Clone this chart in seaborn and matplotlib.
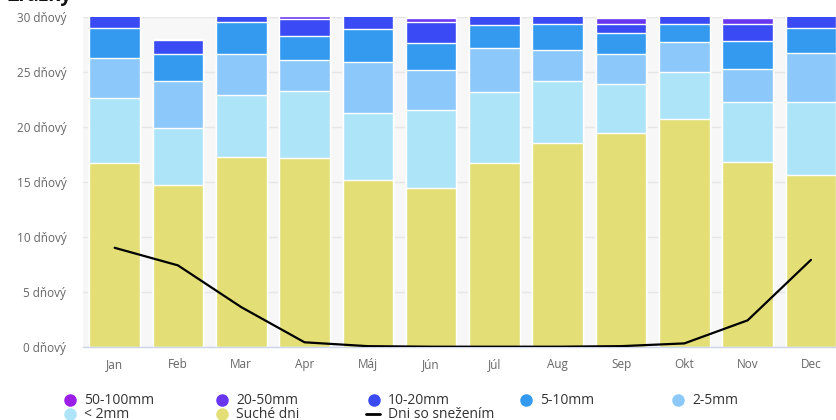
import numpy as np
import pandas as pd
import matplotlib.pyplot as plt
from matplotlib.lines import Line2D
import seaborn as sns

# Monthly rain-day breakdown (days)
months = ['Jan', 'Feb', 'Mar', 'Apr', 'Máj', 'Jún', 'Júl', 'Aug', 'Sep', 'Okt', 'Nov', 'Dec']
dry_days = [16.7, 14.7, 17.3, 17.2, 15.2, 14.4, 16.7, 18.5, 19.4, 20.7, 16.8, 15.6]
rain_lt2 = [5.9, 5.2, 5.6, 6.1, 6.1, 7.1, 6.5, 5.7, 4.5, 4.3, 5.5, 6.7]
rain_2_5 = [3.7, 4.3, 3.7, 2.8, 4.6, 3.7, 4.0, 2.8, 2.7, 2.7, 3.0, 4.4]
rain_5_10 = [2.7, 2.4, 2.9, 2.2, 3.0, 2.4, 2.1, 2.4, 1.9, 1.7, 2.5, 2.3]
rain_10_20 = [2.0, 1.3, 1.5, 1.5, 2.1, 1.9, 1.7, 1.6, 0.9, 1.6, 1.6, 2.0]
rain_20_50 = [0.0, 0.1, 0.0, 0.3, 0.0, 0.4, 0.0, 0.0, 0.5, 0.0, 0.5, 0.0]
rain_50_100 = [0.0, 0.0, 0.0, 0.0, 0.0, 0.1, 0.0, 0.0, 0.1, 0.0, 0.1, 0.0]
snow_days = [9.0, 7.4, 3.6, 0.4, 0.05, 0.0, 0.0, 0.0, 0.05, 0.3, 2.4, 7.9]

ytick_vals = [0, 5, 10, 15, 20, 25, 30]
ytick_labels = [f'{v} dňový' for v in ytick_vals]

# stacking order bottom -> top
layers = [
    ('Suché dni', dry_days, '#e3df76'),
    ('< 2mm', rain_lt2, '#ade4f7'),
    ('2-5mm', rain_2_5, '#8cc8fa'),
    ('5-10mm', rain_5_10, '#339af0'),
    ('10-20mm', rain_10_20, '#3a4af5'),
    ('20-50mm', rain_20_50, '#6a35f0'),
    ('50-100mm', rain_50_100, '#9b1ee8'),
]

sns.set_theme(style='white')
plt.rcParams['font.family'] = ['Open Sans', 'DejaVu Sans']

W, H = 837, 420
fig = plt.figure(figsize=(W / 100, H / 100), dpi=100)
ax_left, ax_right = 83, 842.6
ax_top, ax_bottom = 17, 346.7
ax = fig.add_axes([ax_left / W, 1 - ax_bottom / H,
                   (ax_right - ax_left) / W, (ax_bottom - ax_top) / H])
ax.set_facecolor('#f7f7f7')

df = pd.DataFrame({'month': months})
cum = np.zeros(len(months))
cums = []
for name, vals, color in layers:
    cum = cum + np.array(vals)
    cums.append((name, cum.copy(), color))

# draw tallest cumulative first so lower layers sit on top
for name, top, color in reversed(cums):
    df['top'] = top
    sns.barplot(data=df, x='month', y='top', color=color, saturation=1,
                width=0.8, edgecolor='white', linewidth=1, ax=ax, zorder=2)

line_df = pd.DataFrame({'pos': np.arange(len(months)), 'snow': snow_days})
sns.lineplot(data=line_df, x='pos', y='snow', color='black', linewidth=1.6,
             ax=ax, zorder=5)

ax.set_xlim(-0.5, 11.5)
ax.set_ylim(0, 30)
ax.set_yticks(ytick_vals, ytick_labels)
ax.set_xticks(np.arange(len(months)), months)
ax.set_xlabel('')
ax.set_ylabel('')
ax.grid(axis='y', color='#e6e6e6', linewidth=1)
ax.grid(axis='x', visible=False)
ax.set_axisbelow(True)
for s in ['top', 'right', 'left']:
    ax.spines[s].set_visible(False)
ax.spines['bottom'].set_color('#ccd6eb')
ax.spines['bottom'].set_linewidth(1)
ax.tick_params(axis='y', length=0, pad=12, labelsize=8.5, labelcolor='#666666')
ax.tick_params(axis='x', length=0, pad=8, labelsize=8.5, labelcolor='#666666')

# title (cut off at the top in the reference)
fig.text(8 / W, 1 - 1.5 / H, 'Zrážky', fontsize=14, fontweight='bold',
         color='#111111', va='baseline', ha='left')

# legend, laid out as a grid
legend_items = [
    ('50-100mm', '#9b1ee8', 'o'), ('20-50mm', '#6a35f0', 'o'),
    ('10-20mm', '#3a4af5', 'o'), ('5-10mm', '#339af0', 'o'),
    ('2-5mm', '#8cc8fa', 'o'), ('< 2mm', '#ade4f7', 'o'),
    ('Suché dni', '#e3df76', 'o'), ('Dni so snežením', 'black', 'line'),
]
col_x = [70, 222, 374, 526, 678]
row_y = [400, 414]
for i, (label, color, kind) in enumerate(legend_items):
    r, c = divmod(i, 5)
    x, y = col_x[c], row_y[r]
    if kind == 'o':
        fig.add_artist(Line2D([x / W], [1 - y / H], marker='o', markersize=8,
                              color=color, linestyle='none',
                              transform=fig.transFigure))
    else:
        fig.add_artist(Line2D([(x - 8) / W, (x + 6) / W], [1 - y / H, 1 - y / H],
                              color=color, linewidth=2, transform=fig.transFigure))
    fig.text((x + 14) / W, 1 - y / H, label, fontsize=10, color='#333333',
             fontweight='medium', va='center', ha='left')

fig.savefig('out.png', dpi=100)
